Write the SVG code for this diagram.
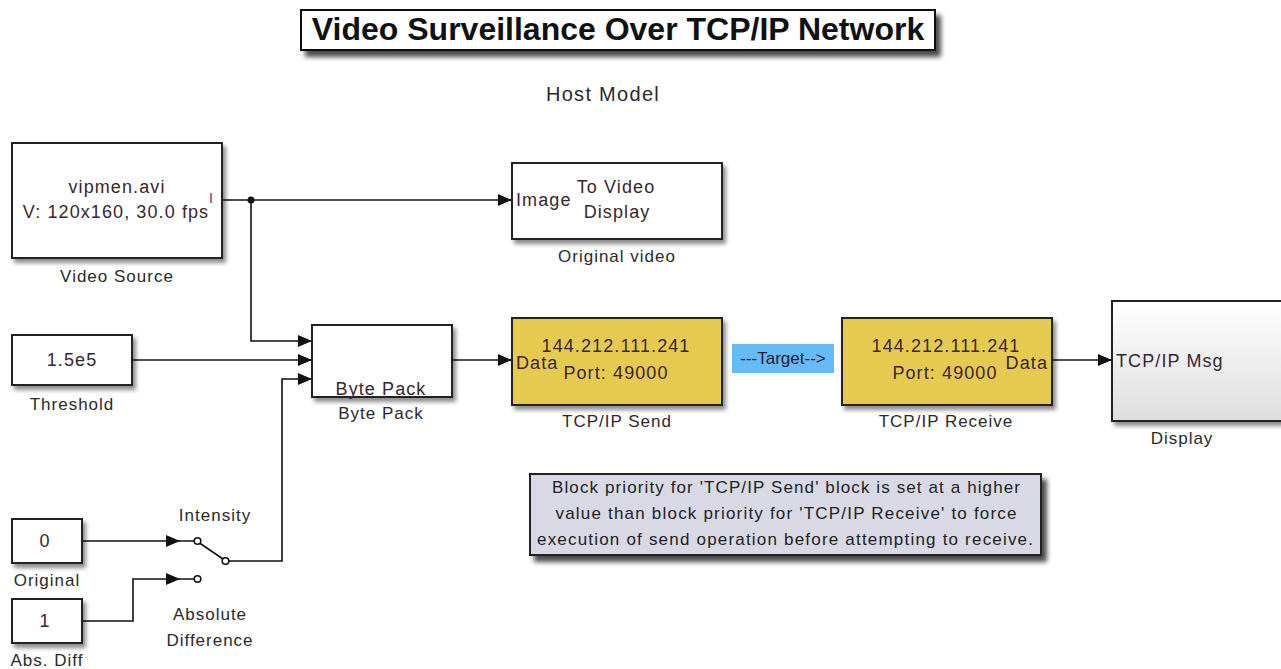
<svg xmlns="http://www.w3.org/2000/svg" width="1281" height="669" viewBox="0 0 1281 669">
<style>
text{font-family:"Liberation Sans",Arial,sans-serif;}
.lbl{font-size:17px;fill:#2a2a2a;letter-spacing:1px;text-anchor:middle;}
.in{font-size:18px;fill:#3a2630;letter-spacing:1.1px;}
.c{text-anchor:middle;}
.blk{fill:#fff;stroke:#222;stroke-width:2;filter:url(#sh);}
.gold{fill:#e6c950;stroke:#222;stroke-width:2;filter:url(#sh);}
.wire{fill:none;stroke:#111;stroke-width:1.6;}
.arr{marker-end:url(#ah);}
</style>
<defs>
<filter id="sh" x="-10%" y="-10%" width="130%" height="140%">
<feDropShadow dx="3" dy="4" stdDeviation="2" flood-color="#000" flood-opacity="0.45"/>
</filter>
<filter id="sh2" x="-10%" y="-20%" width="130%" height="160%">
<feDropShadow dx="5" dy="6" stdDeviation="2.5" flood-color="#000" flood-opacity="0.7"/>
</filter>
<linearGradient id="dg" x1="0" y1="0" x2="0" y2="1">
<stop offset="0" stop-color="#ffffff"/>
<stop offset="1" stop-color="#dedede"/>
</linearGradient>
<marker id="ah" viewBox="0 0 14 12" refX="14" refY="6" markerWidth="14" markerHeight="12" markerUnits="userSpaceOnUse" orient="auto">
<path d="M0,0 L14,6 L0,12 Z" fill="#111"/>
</marker>
</defs>
<rect width="1281" height="669" fill="#fff"/>

<g id="title">
<rect x="301" y="10" width="634" height="40" fill="#fff" stroke="#111" stroke-width="2" filter="url(#sh2)"/>
<text x="618" y="40" class="c" font-size="32" font-weight="bold" fill="#111">Video Surveillance Over TCP/IP Network</text>
</g>
<g id="host-model">
<text x="603" y="101" class="c" font-size="20" fill="#2a2a2a" letter-spacing="1.3">Host Model</text>
</g>

<g id="connectors">
<path class="wire arr" d="M222,200 H512"/>
<circle cx="251" cy="200" r="3.5" fill="#111"/>
<path class="wire arr" d="M251,200 V341 H312"/>
<path class="wire arr" d="M132,360 H312"/>
<path class="wire arr" d="M229,561 H282 V379 H312"/>
<path class="wire arr" d="M452,360 H512"/>
<path class="wire arr" d="M1052,360 H1112"/>
<path class="wire arr" d="M82,541 H180"/>
<path class="wire arr" d="M82,621 H133 V579 H180"/>
</g>

<g id="video-source">
<rect class="blk" x="12" y="143" width="210" height="115"/>
<text class="in c" x="117" y="193">vipmen.avi</text>
<text class="in c" x="116" y="218">V: 120x160, 30.0 fps</text>
<text x="209" y="203" font-size="14" fill="#6a2a80">I</text>
<text class="lbl" x="117" y="282">Video Source</text>
</g>

<g id="original-video">
<rect class="blk" x="512" y="163" width="210" height="76"/>
<text class="in" x="516" y="206" fill="#5a1a6a">Image</text>
<text class="in c" x="616" y="193">To Video</text>
<text class="in c" x="617" y="218">Display</text>
<text class="lbl" x="617" y="262">Original video</text>
</g>

<g id="threshold">
<rect class="blk" x="12" y="335" width="120" height="50"/>
<text class="in c" x="72" y="366">1.5e5</text>
<text class="lbl" x="72" y="410">Threshold</text>
</g>

<g id="byte-pack">
<rect class="blk" x="312" y="325" width="140" height="72"/>
<text class="in c" x="381" y="395">Byte Pack</text>
<text class="lbl" x="381" y="419">Byte Pack</text>
</g>

<g id="tcpip-send">
<rect class="gold" x="512" y="318" width="210" height="87"/>
<text class="in c" x="616" y="352">144.212.111.241</text>
<text class="in c" x="616" y="379">Port: 49000</text>
<text class="in" x="516" y="369" font-size="17">Data</text>
<text class="lbl" x="617" y="427">TCP/IP Send</text>
</g>

<g id="target-tag">
<rect x="732" y="344" width="102" height="29" fill="#66bbf5"/>
<text x="783" y="364" class="c" font-size="17" fill="#1a1a3a">---Target--&gt;</text>
</g>

<g id="tcpip-receive">
<rect class="gold" x="842" y="318" width="210" height="87"/>
<text class="in c" x="946" y="352">144.212.111.241</text>
<text class="in c" x="945" y="379">Port: 49000</text>
<text class="in" x="1048" y="369" font-size="17" text-anchor="end">Data</text>
<text class="lbl" x="946" y="427">TCP/IP Receive</text>
</g>

<g id="display">
<rect x="1112" y="301" width="180" height="120" fill="url(#dg)" stroke="#222" stroke-width="2" filter="url(#sh)"/>
<text class="in" x="1116" y="367" fill="#3a2a60">TCP/IP Msg</text>
<text class="lbl" x="1182" y="444">Display</text>
</g>

<g id="note">
<rect x="530" y="474" width="511" height="81" fill="#d8d9e4" stroke="#222" stroke-width="2" filter="url(#sh2)"/>
<text x="786" y="493" class="c" font-size="17" fill="#222" textLength="468" lengthAdjust="spacing">Block priority for 'TCP/IP Send' block is set at a higher</text>
<text x="786" y="519" class="c" font-size="17" fill="#222" textLength="461" lengthAdjust="spacing">value than block priority for 'TCP/IP Receive' to force</text>
<text x="785" y="545" class="c" font-size="17" fill="#222" textLength="496" lengthAdjust="spacing">execution of send operation before attempting to receive.</text>
</g>

<g id="original-const">
<rect class="blk" x="12" y="519" width="70" height="44"/>
<text class="in c" x="45" y="547">0</text>
<text class="lbl" x="47" y="586">Original</text>
</g>

<g id="absdiff-const">
<rect class="blk" x="12" y="599" width="70" height="44"/>
<text class="in c" x="45" y="627">1</text>
<text class="lbl" x="47" y="666">Abs. Diff</text>
</g>

<g id="intensity-switch">
<path class="wire" d="M180,541 H194 M180,579 H194 M199.5,543 L223,559"/>
<circle cx="197.5" cy="541" r="3.3" fill="#fff" stroke="#111" stroke-width="1.6"/>
<circle cx="197.5" cy="579" r="3.3" fill="#fff" stroke="#111" stroke-width="1.6"/>
<circle cx="225.5" cy="561" r="3.3" fill="#fff" stroke="#111" stroke-width="1.6"/>
<text class="lbl" x="215" y="521" fill="#3a2a60">Intensity</text>
<text class="lbl" x="210" y="620">Absolute</text>
<text class="lbl" x="210" y="646">Difference</text>
</g>
</svg>
